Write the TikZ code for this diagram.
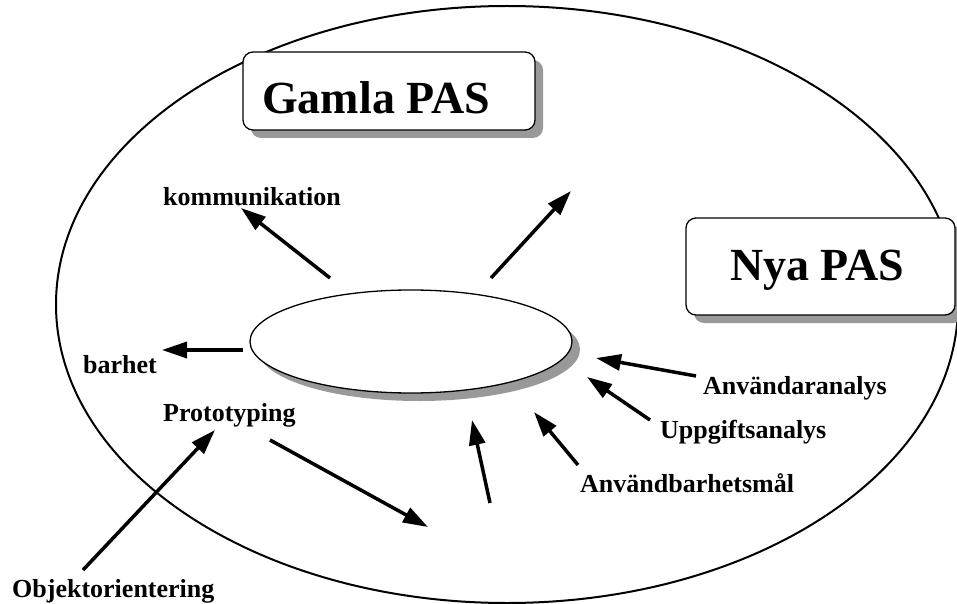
\documentclass[tikz,border=0pt]{standalone}
\usepackage{fontspec}
\setmainfont{Liberation Serif}
\usetikzlibrary{arrows.meta,shadows}
\tikzset{
  lbl/.style={anchor=base west, inner sep=0pt, font=\fontsize{26pt}{30pt}\selectfont\bfseries},
  biglbl/.style={anchor=base west, inner sep=0pt, font=\fontsize{46pt}{52pt}\selectfont\bfseries},
  pasbox/.style={draw=black, line width=1.3pt, fill=white, rounded corners=10pt, inner sep=0pt,
    drop shadow={shadow xshift=8pt, shadow yshift=-8pt, fill=black!40, opacity=1}},
  arr/.style={line width=3.5pt, -{Triangle[length=25pt, width=16pt]}},
}
\begin{document}
\begin{tikzpicture}[x=1pt, y=-1pt]
\useasboundingbox (0,0) rectangle (957,604);
% outer ellipse
\draw[line width=2pt] (507,304.5) ellipse [x radius=451, y radius=298.5];
% boxes
\node[pasbox, minimum width=292pt, minimum height=78pt] (gamlabox) at (389,91) {};
\node[biglbl] (gamla) at (262,114) {Gamla PAS};
\node[pasbox, minimum width=269pt, minimum height=97pt] (nyabox) at (820.5,266.5) {};
\node[biglbl] (nya) at (730,280) {Nya PAS};
% inner ellipse with shadow
\fill[black!40] (419,349.5) ellipse [x radius=161, y radius=51.5];
\draw[line width=1.3pt, fill=white] (411,341.5) ellipse [x radius=161, y radius=51.5];
% labels
\node[lbl] (komm) at (163,205) {kommunikation};
\node[lbl] (barhet) at (83,373) {barhet};
\node[lbl] (proto) at (163,421) {Prototyping};
\node[lbl] (objekt) at (12,597) {Objektorientering};
\node[lbl] (anvanal) at (703,394) {Användaranalys};
\node[lbl] (uppg) at (660,438) {Uppgiftsanalys};
\node[lbl] (mal) at (580,492) {Användbarhetsmål};
% arrow end points
\coordinate (a1s) at (330,278); \coordinate (a1e) at (241,208);
\coordinate (a2s) at (491,278); \coordinate (a2e) at (571,191);
\coordinate (a3s) at (243,350); \coordinate (a3e) at (162,350);
\coordinate (a4s) at (83,570);  \coordinate (a4e) at (215,430);
\coordinate (a5s) at (270,440); \coordinate (a5e) at (428,527);
\coordinate (a6s) at (490,503); \coordinate (a6e) at (472,420);
\coordinate (a7s) at (578,465); \coordinate (a7e) at (534,412);
\coordinate (a8s) at (650,420); \coordinate (a8e) at (587,377);
\coordinate (a9s) at (696,376); \coordinate (a9e) at (596,358);
\draw[arr] (a1s) -- (a1e);
\draw[arr] (a2s) -- (a2e);
\draw[arr] (a3s) -- (a3e);
\draw[arr] (a4s) -- (a4e);
\draw[arr] (a5s) -- (a5e);
\draw[arr] (a6s) -- (a6e);
\draw[arr] (a7s) -- (a7e);
\draw[arr] (a8s) -- (a8e);
\draw[arr] (a9s) -- (a9e);
\end{tikzpicture}
\end{document}
